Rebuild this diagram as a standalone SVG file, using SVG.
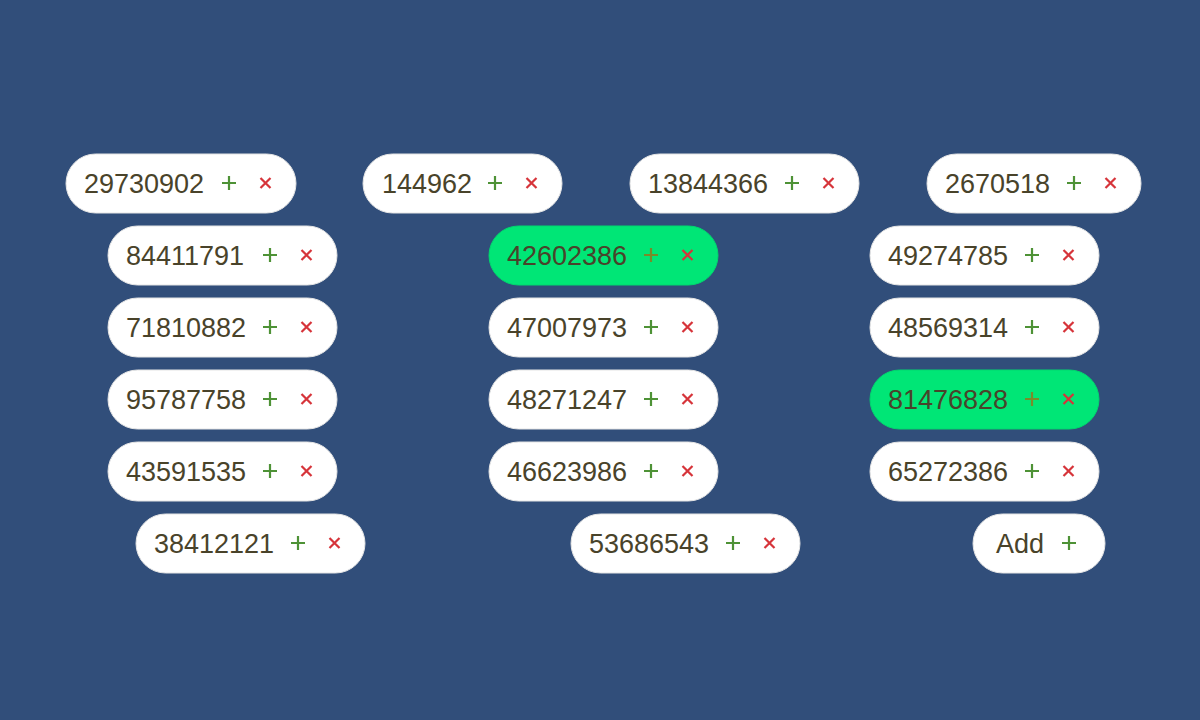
<svg xmlns="http://www.w3.org/2000/svg" xmlns:xlink="http://www.w3.org/1999/xlink" width="1200" height="720" viewBox="0 0 1200 720">
<style>
.pill{fill:#ffffff;stroke:#e4e4e4;stroke-width:1}
.pill.on{fill:#00e676;stroke:#00d86e}
.lbl{font-family:"Liberation Sans",Arial,sans-serif;font-size:27px;fill:#49432a}
.plus{stroke:#4e9236;stroke-width:2.2;fill:none}
.on-plus{stroke:#7a8a2a}
.x{stroke:#d6343a;stroke-width:2.2;fill:none}
</style>
<defs>
<path id="p" d="M-7,0H7M0,-7V7"/>
<path id="c" d="M-5,-5L5,5M5,-5L-5,5"/>
</defs>
<rect width="1200" height="720" fill="#314e7a"/>
<g id="connectors"></g>

<g id="n1"><rect class="pill" x="66" y="154" width="230" height="59" rx="29.5"/><text class="lbl" x="84" y="193">29730902</text><use href="#p" class="plus" x="229" y="183"/><use href="#c" class="x" x="265.5" y="183"/></g>
<g id="n2"><rect class="pill" x="363" y="154" width="199" height="59" rx="29.5"/><text class="lbl" x="382" y="193">144962</text><use href="#p" class="plus" x="495" y="183"/><use href="#c" class="x" x="531.5" y="183"/></g>
<g id="n3"><rect class="pill" x="630" y="154" width="229" height="59" rx="29.5"/><text class="lbl" x="648" y="193">13844366</text><use href="#p" class="plus" x="792" y="183"/><use href="#c" class="x" x="828.5" y="183"/></g>
<g id="n4"><rect class="pill" x="927" y="154" width="214" height="59" rx="29.5"/><text class="lbl" x="945" y="193">2670518</text><use href="#p" class="plus" x="1074" y="183"/><use href="#c" class="x" x="1110.5" y="183"/></g>

<g id="n5"><rect class="pill" x="108" y="226" width="229" height="59" rx="29.5"/><text class="lbl" x="126" y="265">84411791</text><use href="#p" class="plus" x="270" y="255"/><use href="#c" class="x" x="306.5" y="255"/></g>
<g id="n6"><rect class="pill on" x="489" y="226" width="229" height="59" rx="29.5"/><text class="lbl" x="507" y="265">42602386</text><use href="#p" class="plus on-plus" x="651" y="255"/><use href="#c" class="x" x="687.5" y="255"/></g>
<g id="n7"><rect class="pill" x="870" y="226" width="229" height="59" rx="29.5"/><text class="lbl" x="888" y="265">49274785</text><use href="#p" class="plus" x="1032" y="255"/><use href="#c" class="x" x="1068.5" y="255"/></g>

<g id="n8"><rect class="pill" x="108" y="298" width="229" height="59" rx="29.5"/><text class="lbl" x="126" y="337">71810882</text><use href="#p" class="plus" x="270" y="327"/><use href="#c" class="x" x="306.5" y="327"/></g>
<g id="n9"><rect class="pill" x="489" y="298" width="229" height="59" rx="29.5"/><text class="lbl" x="507" y="337">47007973</text><use href="#p" class="plus" x="651" y="327"/><use href="#c" class="x" x="687.5" y="327"/></g>
<g id="n10"><rect class="pill" x="870" y="298" width="229" height="59" rx="29.5"/><text class="lbl" x="888" y="337">48569314</text><use href="#p" class="plus" x="1032" y="327"/><use href="#c" class="x" x="1068.5" y="327"/></g>

<g id="n11"><rect class="pill" x="108" y="370" width="229" height="59" rx="29.5"/><text class="lbl" x="126" y="409">95787758</text><use href="#p" class="plus" x="270" y="399"/><use href="#c" class="x" x="306.5" y="399"/></g>
<g id="n12"><rect class="pill" x="489" y="370" width="229" height="59" rx="29.5"/><text class="lbl" x="507" y="409">48271247</text><use href="#p" class="plus" x="651" y="399"/><use href="#c" class="x" x="687.5" y="399"/></g>
<g id="n13"><rect class="pill on" x="870" y="370" width="229" height="59" rx="29.5"/><text class="lbl" x="888" y="409">81476828</text><use href="#p" class="plus on-plus" x="1032" y="399"/><use href="#c" class="x" x="1068.5" y="399"/></g>

<g id="n14"><rect class="pill" x="108" y="442" width="229" height="59" rx="29.5"/><text class="lbl" x="126" y="481">43591535</text><use href="#p" class="plus" x="270" y="471"/><use href="#c" class="x" x="306.5" y="471"/></g>
<g id="n15"><rect class="pill" x="489" y="442" width="229" height="59" rx="29.5"/><text class="lbl" x="507" y="481">46623986</text><use href="#p" class="plus" x="651" y="471"/><use href="#c" class="x" x="687.5" y="471"/></g>
<g id="n16"><rect class="pill" x="870" y="442" width="229" height="59" rx="29.5"/><text class="lbl" x="888" y="481">65272386</text><use href="#p" class="plus" x="1032" y="471"/><use href="#c" class="x" x="1068.5" y="471"/></g>

<g id="n17"><rect class="pill" x="136" y="514" width="229" height="59" rx="29.5"/><text class="lbl" x="154" y="553">38412121</text><use href="#p" class="plus" x="298" y="543"/><use href="#c" class="x" x="334.5" y="543"/></g>
<g id="n18"><rect class="pill" x="571" y="514" width="229" height="59" rx="29.5"/><text class="lbl" x="589" y="553">53686543</text><use href="#p" class="plus" x="733" y="543"/><use href="#c" class="x" x="769.5" y="543"/></g>
<g id="n19"><rect class="pill" x="973" y="514" width="132" height="59" rx="29.5"/><text class="lbl" x="996" y="553">Add</text><use href="#p" class="plus" x="1069" y="543"/></g>
</svg>
